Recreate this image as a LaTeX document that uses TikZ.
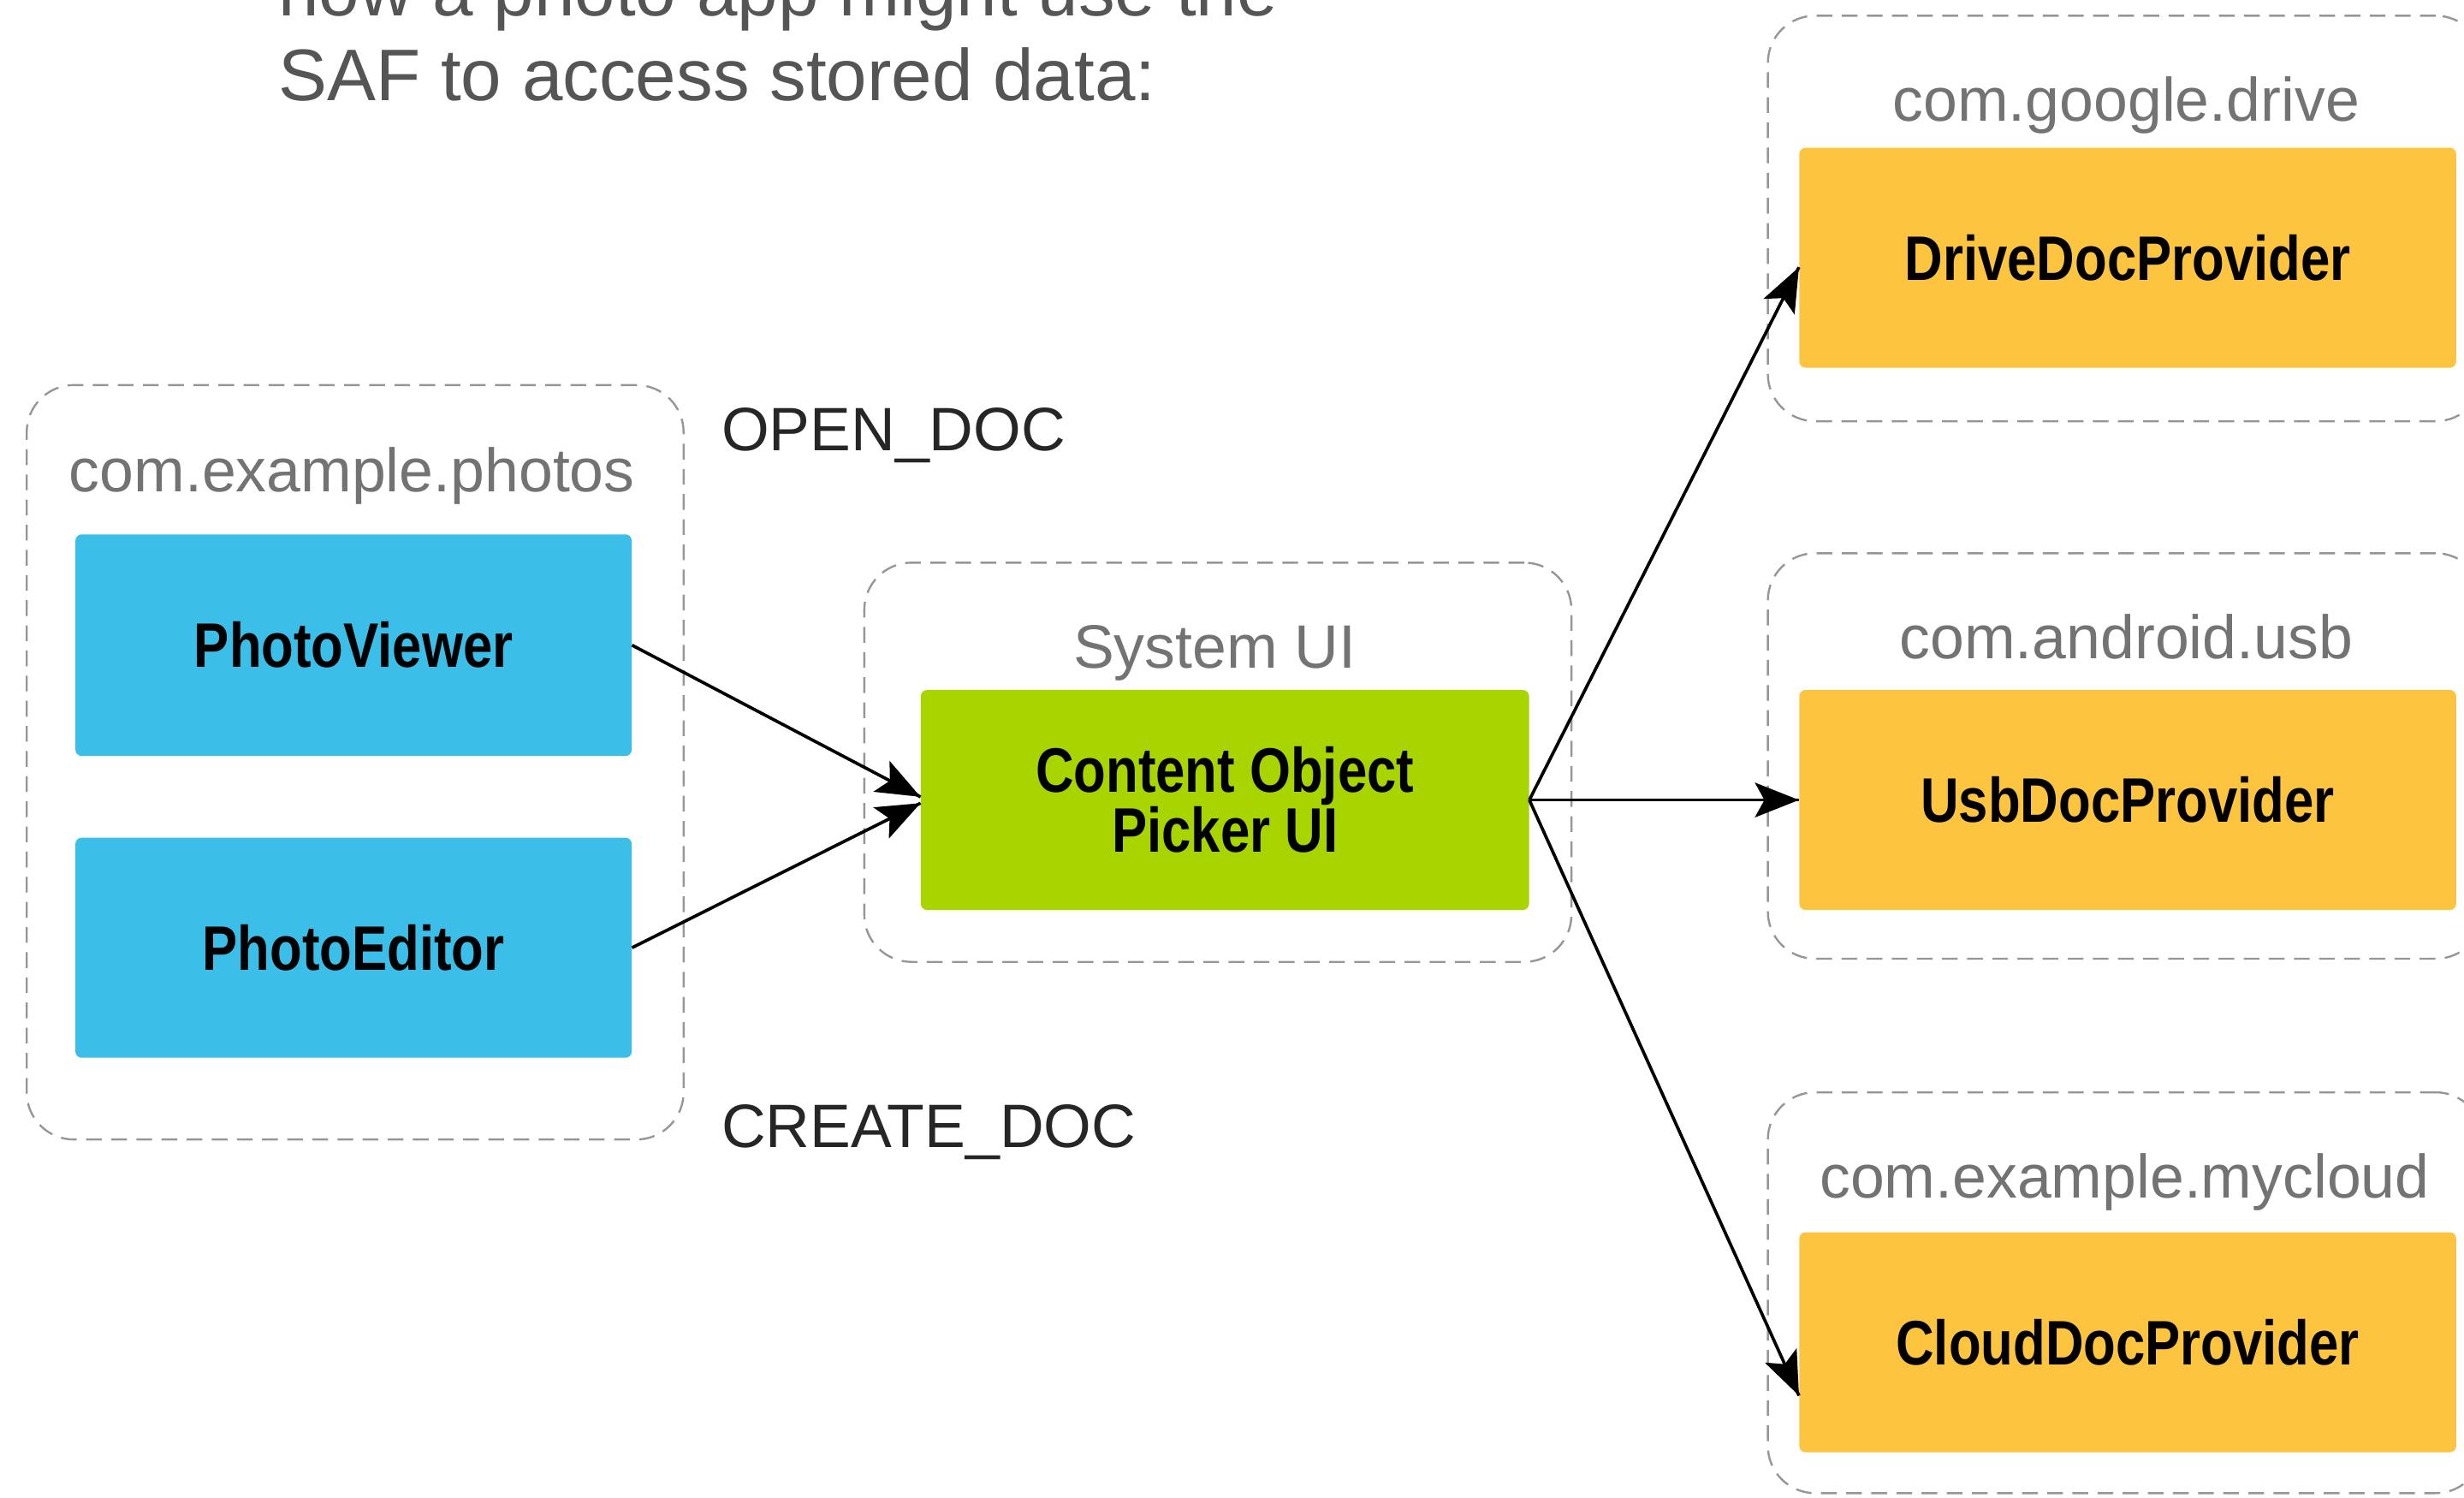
\documentclass[tikz,border=0pt]{standalone}
\usepackage{fontspec}
\setmainfont{Liberation Sans}
\newfontfamily\boxfont[FakeStretch=0.84]{Liberation Sans}
\usepackage{tikz}
\usetikzlibrary{calc}
\usetikzlibrary{arrows.meta,decorations.markings}

\definecolor{dashgray}{RGB}{150,150,150}
\definecolor{labelgray}{RGB}{115,115,115}
\definecolor{introgray}{RGB}{85,85,85}
\definecolor{appblue}{RGB}{59,191,232}
\definecolor{uigreen}{RGB}{168,212,0}
\definecolor{provorange}{RGB}{253,196,64}

\begin{document}
\begin{tikzpicture}
% define arrow head and boxes
[
    x=1pt,y=-1pt,
    decoration={
      markings,
      mark=at position 1 with {\arrow{Stealth[length=28pt,width=22pt,inset=6pt]}};
    },
    arr/.style={line width=2pt,postaction={decorate}},
    group/.style={draw=dashgray,line width=1.3pt,dash pattern=on 10pt off 6pt,rounded corners=30pt,inner sep=0pt},
    grouplabel/.style={anchor=base,inner sep=0pt,text=labelgray,font=\fontsize{39}{44}\selectfont},
    comp/.style={rounded corners=4pt,inner sep=0pt,align=center,text=black,font=\boxfont\bfseries\fontsize{40}{37}\selectfont},
    intent/.style={anchor=base west,inner sep=0pt,text=black!85,font=\fontsize{39}{44}\selectfont}
]

% page
\useasboundingbox (0,0) rectangle (1568,952.6);
\clip (0,0) rectangle (1568,952.6);

% intro text
\node[anchor=base west,inner sep=0pt,text=introgray,font=\fontsize{46.5}{54}\selectfont] (intro1) at (177,10) {how a photo app might use the};
\node[anchor=base west,inner sep=0pt,text=introgray,font=\fontsize{46.5}{54}\selectfont] (intro2) at (177,64) {SAF to access stored data:};

% dashed packages
\node[group,minimum width=418pt,minimum height=480pt] (photos) at (226,485) {};
\node[group,minimum width=450pt,minimum height=254pt] (sysui) at (775,485) {};
\node[group,minimum width=455pt,minimum height=258pt] (drivegrp) at (1352.5,139) {};
\node[group,minimum width=455pt,minimum height=258pt] (usbgrp) at (1352.5,481) {};
\node[group,minimum width=455pt,minimum height=255pt] (cloudgrp) at (1352.5,822.5) {};

\node[grouplabel] (photoslbl) at (224,313) {com.example.photos};
\node[grouplabel] (sysuilbl) at (773,425) {System UI};
\node[grouplabel] (drivelbl) at (1353,77) {com.google.drive};
\node[grouplabel] (usblbl) at (1353,419) {com.android.usb};
\node[grouplabel] (cloudlbl) at (1352,762) {com.example.mycloud};

% components
\node[comp,fill=appblue,minimum width=354pt,minimum height=141pt] (viewer) at (225,410.5) {PhotoViewer};
\node[comp,fill=appblue,minimum width=354pt,minimum height=140pt] (editor) at (225,603) {PhotoEditor};
\node[comp,fill=uigreen,minimum width=387pt,minimum height=140pt] (picker) at (779.5,509) {Content Object\\Picker UI};
\node[comp,fill=provorange,minimum width=418pt,minimum height=140pt] (drive) at (1354,164) {DriveDocProvider};
\node[comp,fill=provorange,minimum width=418pt,minimum height=140pt] (usb) at (1354,509) {UsbDocProvider};
\node[comp,fill=provorange,minimum width=418pt,minimum height=140pt] (cloud) at (1354,854) {CloudDocProvider};

% intents
\node[intent] (open) at (459,287) {OPEN\_DOC};
\node[intent] (create) at (459,730) {CREATE\_DOC};

% arrows
\draw[arr] (viewer.east) -- ($(picker.west)+(0,-2)$);
\draw[arr] (editor.east) -- ($(picker.west)+(0,2)$);
\draw[arr] (picker.east) -- ($(drive.west)+(0,6)$);
\draw[arr] (picker.east) -- (usb.west);
\draw[arr] (picker.east) -- ($(cloud.west)+(0,34)$);

\end{tikzpicture}
\end{document}
